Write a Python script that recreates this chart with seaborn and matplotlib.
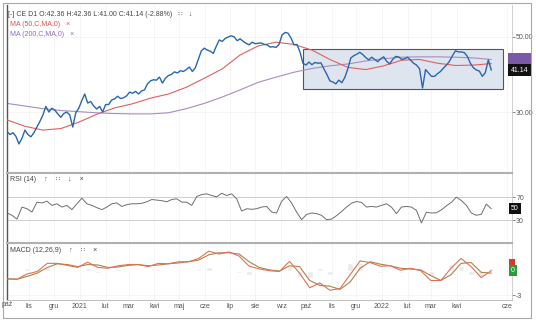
import pandas as pd
import matplotlib
matplotlib.use("Agg")
from matplotlib import pyplot as plt
from matplotlib.patches import Rectangle
import matplotlib.transforms as mtransforms
import matplotlib.dates as mdates
import seaborn as sns

sns.set_style("white")
plt.rcParams['font.family'] = ['Liberation Sans', 'DejaVu Sans']

# Zakres danych (sesje od pierwszej do ostatniej)
start = pd.Timestamp("2020-10-05")
end = pd.Timestamp("2022-05-13")
view_end = pd.Timestamp("2022-06-07")

# Kurs zamkniecia (co ok. 2-3 sesje)
close = [24.8, 24.0, 24.5, 23.5, 21.5, 23.0, 25.2, 24.0, 23.4, 24.5, 26.0, 27.5, 29.2, 31.5, 30.0,
         31.0, 30.5, 29.5, 28.6, 29.6, 30.0, 29.2, 26.0, 29.8, 31.0, 33.0, 34.8, 32.4, 32.8, 31.6,
         30.8, 31.5, 30.0, 32.0, 32.0, 33.2, 33.5, 34.2, 33.6, 33.8, 34.3, 35.3, 35.0, 35.5, 34.8,
         35.6, 35.9, 37.5, 38.3, 38.6, 38.5, 39.3, 37.7, 39.0, 39.7, 40.0, 40.7, 40.4, 41.0, 40.8,
         41.3, 42.0, 40.8, 41.8, 44.0, 46.3, 47.0, 46.5, 46.2, 45.6, 47.5, 49.2, 48.8, 49.6, 50.0,
         50.3, 50.0, 49.0, 49.5, 48.8, 48.3, 47.9, 48.6, 48.2, 48.3, 48.4, 48.0, 47.9, 47.3, 47.4,
         47.2, 48.0, 50.5, 51.2, 51.0, 49.7, 47.9, 48.0, 46.0, 43.0, 42.5, 43.3, 42.6, 43.2, 43.0,
         43.1, 41.5, 40.0, 38.3, 38.0, 37.5, 38.5, 37.8, 39.2, 41.5, 44.4, 45.0, 45.4, 45.9, 45.3,
         44.5, 43.9, 44.6, 44.0, 43.4, 44.2, 44.7, 43.5, 42.8, 44.0, 44.8, 44.7, 44.0, 44.2, 44.6,
         43.8, 43.0, 42.5, 41.5, 36.4, 41.3, 40.4, 39.5, 39.5, 40.2, 40.8, 41.7, 42.5, 43.5, 45.0,
         46.3, 46.0, 46.0, 45.8, 44.8, 43.0, 41.8, 41.2, 40.9, 39.5, 40.5, 43.9, 41.14]

ma50 = [27.9, 26.2, 25.2, 25.6, 27.3, 29.4, 31.1, 32.2, 33.7, 34.8, 36.6, 39.0, 41.5, 45.2,
        47.6, 48.6, 48.0, 46.5, 44.0, 41.9, 41.3, 42.3, 43.8, 44.0, 43.0, 42.4, 42.5, 42.9]
ma200 = [32.3, 31.6, 30.9, 30.4, 30.1, 29.8, 29.6, 29.5, 29.5, 29.8, 30.9, 32.3, 34.0, 35.9,
         37.9, 39.3, 40.6, 41.6, 42.3, 42.8, 43.6, 44.2, 44.6, 44.7, 44.7, 44.6, 44.4, 44.0]

rsi = [42.6, 38.6, 32, 52.9, 50, 44.3, 61.4, 60, 63.1, 55.8, 58.6, 52.9, 55.8, 48.4, 58.6,
       68.3, 58.6, 55.8, 51.8, 48.4, 52.9, 58.6, 60, 54, 57, 58.6, 58.6, 59.5, 62, 66,
       65, 64, 62, 66, 67.2, 61.4, 61.4, 55.8, 71.2, 74.6, 75.8, 72.9, 70.6, 76.9, 72.9,
       75.8, 67.2, 46, 50, 49, 50, 52.9, 54, 44.3, 42.6, 63, 71.2, 60, 44.3, 31,
       40, 42.6, 41.5, 38.6, 31, 32, 38, 45, 53, 59.5, 62.5, 61, 52.9, 54, 52.9,
       55.8, 58.6, 52.9, 41.5, 52.9, 54, 52.9, 47.2, 25.4, 44, 42.6, 43, 48, 55, 61,
       70, 64.3, 56, 42.6, 38.6, 40.3, 58, 50]

macd = [-1.0, -1.05, -0.4, -0.1, 0.9, 0.9, 0.64, 0.4, 1.05, 0.4, 0.3, 0.6, 0.75, 0.76, 0.5,
        0.9, 0.85, 1.1, 1.1, 1.5, 2.4, 2.05, 2.3, 1.8, 0.55, 0.22, 0.0, -0.1, 1.15, -0.3,
        -2.1, -1.5, -2.4, -2.2, -0.5, 1.2, 1.0, 0.55, 0.6, 0.05, 0.3, 0.0, -1.2, -1.2, 0.3,
        1.5, 0.5, -0.85, 0.0]
signal = [-1.0, -1.05, -0.7, -0.3, 0.4, 0.85, 0.75, 0.5, 0.75, 0.7, 0.4, 0.45, 0.65, 0.75, 0.6,
          0.7, 0.85, 0.95, 1.1, 1.3, 1.95, 2.2, 2.2, 2.05, 1.1, 0.4, 0.1, -0.05, 0.6, 0.5,
          -1.2, -1.8, -1.9, -2.3, -1.4, 0.3, 1.1, 0.8, 0.6, 0.3, 0.2, 0.1, -0.6, -1.2, -0.5,
          0.9, 1.0, -0.2, -0.3]

# Prostokat konsolidacji
box_start, box_end = pd.Timestamp("2021-09-27"), pd.Timestamp("2022-05-27")
box_low, box_high = 36.1, 46.8

month_ticks = ["2020-11-01", "2020-12-01", "2021-01-01", "2021-02-01", "2021-03-01", "2021-04-01",
               "2021-05-01", "2021-06-01", "2021-07-01", "2021-08-01", "2021-09-01", "2021-10-01",
               "2021-11-01", "2021-12-01", "2022-01-01", "2022-02-01", "2022-03-01", "2022-04-01",
               "2022-06-01"]
month_labels = ["lis", "gru", "2021", "lut", "mar", "kwi", "maj", "cze", "lip", "sie", "wrz", "paź",
                "lis", "gru", "2022", "lut", "mar", "kwi", "cze"]

d_close = pd.date_range(start, end, periods=len(close))
d_ma = pd.date_range(start, end, periods=len(ma50))
d_rsi = pd.date_range(start, end, periods=len(rsi))
d_macd = pd.date_range(start, end, periods=len(macd))
hist = [m - s for m, s in zip(macd, signal)]
ticks = pd.to_datetime(month_ticks)

fig = plt.figure(figsize=(5.36, 3.22), dpi=100)
W, H = 536, 322
ax1 = fig.add_axes([7 / W, 151 / H, 505 / W, 166 / H])
ax2 = fig.add_axes([7 / W, 81 / H, 505 / W, 68 / H])
ax3 = fig.add_axes([7 / W, 22 / H, 505 / W, 57 / H])

# Panel cenowy
ax1.add_patch(Rectangle((mdates.date2num(box_start), box_low),
                        mdates.date2num(box_end) - mdates.date2num(box_start), box_high - box_low,
                        facecolor='#dfe5ef', edgecolor='#555555', lw=0.8, zorder=1))
sns.lineplot(x=d_ma, y=ma200, ax=ax1, color='#a98cc0', lw=0.8, zorder=2)
sns.lineplot(x=d_ma, y=ma50, ax=ax1, color='#e0605e', lw=0.8, zorder=3)
sns.lineplot(x=d_close, y=close, ax=ax1, color='#2a66ad', lw=1.0, zorder=4)
ax1.set_ylim(14.3, 58.5)
ax1.set_yticks([30, 50])
ax1.set_yticklabels(['30.00', '50.00'])

# RSI
ax2.axhline(70, color='#d0d0d0', lw=0.7)
ax2.axhline(30, color='#d0d0d0', lw=0.7)
sns.lineplot(x=d_rsi, y=rsi, ax=ax2, color='#6e6e6e', lw=0.7)
ax2.set_ylim(-6, 112)
ax2.set_yticks([30, 70])
ax2.set_yticklabels(['30', '70'])

# MACD
ax3.bar(d_macd, hist, width=7, color='#ebebeb', zorder=1)
sns.lineplot(x=d_macd, y=signal, ax=ax3, color='#a88448', lw=0.8, zorder=2)
sns.lineplot(x=d_macd, y=macd, ax=ax3, color='#e56f55', lw=0.8, zorder=3)
ax3.set_ylim(-3.6, 3.4)
ax3.set_yticks([-3])
ax3.set_yticklabels(['-3'])

for ax in (ax1, ax2, ax3):
    ax.set_xlim(start, view_end)
    ax.set_xticks(ticks)
    ax.grid(True, color='#f2f2f2', lw=0.5)
    ax.set_axisbelow(True)
    ax.yaxis.tick_right()
    ax.tick_params(axis='y', labelsize=5, colors='#555555', length=2, pad=1, width=0.5)
    ax.tick_params(axis='x', length=0, pad=2)
    ax.set_xlabel('')
    ax.set_ylabel('')
    ax.spines['left'].set_color('#555555')
    ax.spines['left'].set_linewidth(1.0)
    ax.spines['right'].set_color('#c8c8c8')
    ax.spines['right'].set_linewidth(0.6)
    ax.spines['bottom'].set_visible(False)
    ax.spines['top'].set_color('#b0b0b0')
    ax.spines['top'].set_linewidth(1.5)
ax1.spines['top'].set_visible(False)
ax3.spines['bottom'].set_visible(True)
ax3.spines['bottom'].set_color('#c0c0c0')
ax3.spines['bottom'].set_linewidth(0.7)
ax1.set_xticklabels([])
ax2.set_xticklabels([])
ax3.set_xticklabels(month_labels, fontsize=5, color='#555555')
fig.text(2 / W, 1 - 305 / H, 'paź', ha='left', va='center', fontsize=5, color='#555555')

# Etykiety ostatnich wartosci
tag = dict(ha='left', va='center', fontsize=5, clip_on=False)
yr1 = mtransforms.blended_transform_factory(ax1.transAxes, ax1.transData)
ax1.text(0.998, ma200[-1], '44.00', color='#7a5aa8', transform=yr1,
         bbox=dict(facecolor='#7a5aa8', edgecolor='none', pad=1.8), **tag)
ax1.text(0.998, close[-1], f'{close[-1]:.2f}', color='white', transform=yr1,
         bbox=dict(facecolor='#111111', edgecolor='none', pad=1.8), **tag)
yr2 = mtransforms.blended_transform_factory(ax2.transAxes, ax2.transData)
ax2.text(0.998, rsi[-1], f'{rsi[-1]:.0f}', color='white', transform=yr2,
         bbox=dict(facecolor='#111111', edgecolor='none', pad=1.5), **tag)
yr3 = mtransforms.blended_transform_factory(ax3.transAxes, ax3.transData)
ax3.text(0.998, 0.8, ' ', color='white', transform=yr3,
         bbox=dict(facecolor='#d33a2c', edgecolor='none', pad=1.5), **tag)
ax3.text(0.998, macd[-1], f'{macd[-1]:.0f}', color='white', transform=yr3,
         bbox=dict(facecolor='#2e9a3a', edgecolor='none', pad=1.5), **tag)

# Naglowki paneli
hdr = dict(fontsize=5, transform=fig.transFigure, va='center', ha='left')
fig.text(8 / W, 1 - 15 / H, '[-] CE D1 O:42.36 H:42.36 L:41.00 C:41.14 (-2.88%)   ∷   ↓',
         color='#444444', **hdr)
fig.text(10 / W, 1 - 25 / H, 'MA (50,C,MA,0)   ×', color='#d9534f', **hdr)
fig.text(10 / W, 1 - 34 / H, 'MA (200,C,MA,0)   ×', color='#8e6cb8', **hdr)
fig.text(10 / W, 1 - 180 / H, 'RSI (14)    ↑    ∷    ↓    ×', color='#444444', **hdr)
fig.text(10 / W, 1 - 250 / H, 'MACD (12,26,9)    ↑    ∷    ×', color='#444444', **hdr)

# Ramka calosci
fig.patches.append(Rectangle((3 / W, 4 / H), 528 / W, 315 / H, transform=fig.transFigure,
                             fill=False, edgecolor='#a8a8a8', lw=0.8))

plt.savefig('out.png', dpi=100)
